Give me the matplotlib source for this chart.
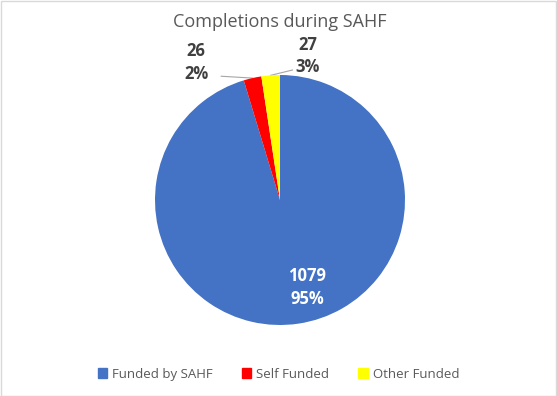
import numpy as np
import matplotlib.pyplot as plt
from matplotlib.patches import Rectangle

plt.rcParams['font.family'] = ['Open Sans', 'DejaVu Sans']

labels = ['Funded by SAHF', 'Self Funded', 'Other Funded']
counts = [1079, 26, 27]
percents = [95, 2, 3]
colors = ['#4472C4', '#FF0000', '#FFFF00']
# where each label block sits (pie radius = 1)
label_pos = [(0.22, -0.70), (-0.67, 1.10), (0.22, 1.15)]

fig = plt.figure(figsize=(5.57, 3.96), dpi=100)
fig.patches.append(Rectangle((0.001, 0.001), 0.997, 0.997, transform=fig.transFigure,
                             fill=False, edgecolor='#D9D9D9', lw=1))

ax = fig.add_axes([(280 - 125) / 557, (396 - 325) / 396, 250 / 557, 250 / 396])
wedges, _ = ax.pie(counts, colors=colors, startangle=90, counterclock=False,
                   wedgeprops=dict(linewidth=0))
ax.set_xlim(-1, 1)
ax.set_ylim(-1, 1)
ax.set_aspect('equal')

for i, (w, c, p) in enumerate(zip(wedges, counts, percents)):
    txt = f'{c}\n{p}%'
    tx, ty = label_pos[i]
    if i == 0:
        ax.text(tx, ty, txt, ha='center', va='center', color='white',
                fontsize=12, fontweight='bold', linespacing=1.3)
    else:
        mid = np.deg2rad((w.theta1 + w.theta2) / 2)
        ex, ey = np.cos(mid), np.sin(mid)
        ax.text(tx, ty, txt, ha='center', va='center', color='#404040',
                fontsize=12, fontweight='bold', linespacing=1.3, zorder=0)
        if i == 1:
            sx, sy = tx + 0.2, 0.99
        else:
            sx, sy = tx - 0.12, 1.04
        ax.plot([ex, sx], [ey, sy], color='#A6A6A6', lw=0.8, clip_on=False, zorder=0)

fig.text(0.503, 0.945, 'Completions during SAHF', ha='center', va='center',
         fontsize=13, color='#595959')

handles = [Rectangle((0, 0), 1, 1, color=c) for c in colors]
fig.legend(handles, labels, loc='center', bbox_to_anchor=(0.5, 0.055), ncol=3,
           frameon=False, fontsize=9.5, handlelength=0.7, handleheight=0.7,
           handletextpad=0.4, columnspacing=2.2, labelcolor='#595959')

fig.savefig('out.png', dpi=100)
